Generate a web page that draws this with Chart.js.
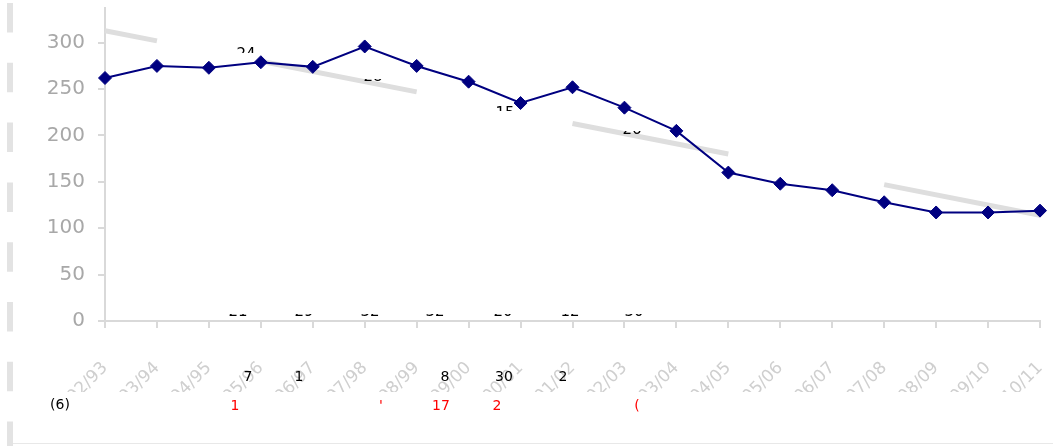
<!DOCTYPE html>
<html>
<head>
<meta charset="utf-8">
<script src="https://cdn.jsdelivr.net/npm/chart.js@4.4.0/dist/chart.umd.min.js"></script>
<style>
  html, body { margin: 0; padding: 0; background: #fff; }
  #wrap { width: 1053px; height: 446px; }
</style>
</head>
<body>
<div id="wrap"><canvas id="chart" width="1053" height="446"></canvas></div>
<script>
// categories (financial years)
const years = ['92/93', '93/94', '94/95', '95/96', '96/97', '97/98', '98/99', '99/00', '00/01',
    '01/02', '02/03', '03/04', '04/05', '05/06', '06/07', '07/08', '08/09', '09/10', '10/11'];

// main series
const values = [262, 275, 273, 279, 274, 296, 275, 258, 235, 252, 230, 205, 160, 148, 141, 128, 117, 117, 119];

// grey trend line, only where it is visible
const trendValues = [313, 302, null, 280, null, null, 247, null, null, 213, null, null, 180, null, null, 147, null, null, 114];
const trendHiddenTo = [3, 9, 15];

const yTicks = [0, 50, 100, 150, 200, 250, 300];

// stray label fragments
const axisNotes = ['21', '29', '32', '32', '20', '12', '30'];
const trendNotes = ['24', '28', '15', '26'];
const blackNotes = ['7', '1', '8', '30', '2'];
const redNotes = ['1', "'", '17', '2', '('];

const fragments = {
    id: 'fragments',
    beforeDraw(chart) {
        const ctx = chart.ctx;
        ctx.save();
        ctx.strokeStyle = '#e3e3e3';
        ctx.lineWidth = 6;
        ctx.setLineDash([29.5, 30.3]);
        ctx.beginPath();
        ctx.moveTo(10, 3);
        ctx.lineTo(10, 446);
        ctx.stroke();
        ctx.setLineDash([]);
        ctx.strokeStyle = '#e8e8e8';
        ctx.lineWidth = 1;
        ctx.beginPath();
        ctx.moveTo(13, 443.5);
        ctx.lineTo(1053, 443.5);
        ctx.stroke();
        ctx.restore();
    },
    afterDraw(chart) {
        const ctx = chart.ctx;
        ctx.save();
        // lower band hides the start of the category labels
        ctx.fillStyle = '#fff';
        ctx.fillRect(20, 392, 1033, 48);

        ctx.textAlign = 'center';
        ctx.textBaseline = 'middle';
        ctx.font = '15px "DejaVu Sans"';
        ctx.fillStyle = '#000';

        // half hidden numbers sitting on the x axis
        const axisX = [238, 304, 370, 435, 503, 570, 634];
        ctx.save();
        ctx.beginPath();
        ctx.rect(0, 314, 1053, 6);
        ctx.clip();
        axisNotes.forEach((t, i) => ctx.fillText(t, axisX[i], 312));
        ctx.restore();

        // half hidden numbers along the trend line
        const tPos = [[246, 55, 45, 53], [373, 77, 79, 87], [505, 114, 103, 111], [632, 130, 131, 139]];
        trendNotes.forEach((t, i) => {
            const [x, y, c0, c1] = tPos[i];
            ctx.save();
            ctx.beginPath();
            ctx.rect(0, c0, 1053, c1 - c0);
            ctx.clip();
            ctx.fillText(t, x, y);
            ctx.restore();
        });

        // black row under the axis
        ctx.font = '14px "DejaVu Sans"';
        const bX = [248, 299, 445, 504, 563];
        blackNotes.forEach((t, i) => ctx.fillText(t, bX[i], 377));
        ctx.fillText('(6)', 60, 405);

        // red row
        ctx.fillStyle = '#ff0000';
        const rX = [235, 381, 441, 497, 637];
        redNotes.forEach((t, i) => ctx.fillText(t, rX[i], 406));
        ctx.restore();
    }
};

new Chart(document.getElementById('chart'), {
    type: 'line',
    data: {
        labels: years,
        datasets: [
            {
                data: values,
                borderColor: '#000080',
                borderWidth: 2,
                backgroundColor: '#000080',
                pointStyle: 'rectRot',
                pointRadius: 6.5,
                pointBackgroundColor: '#000080',
                pointBorderColor: '#000080',
                pointBorderWidth: 1,
                tension: 0
            },
            {
                data: trendValues,
                spanGaps: true,
                borderWidth: 5,
                borderColor: '#dedede',
                pointRadius: 0,
                tension: 0,
                segment: {
                    borderColor: ctx => trendHiddenTo.includes(ctx.p1DataIndex) ? 'rgba(0,0,0,0)' : '#dedede'
                }
            }
        ]
    },
    options: {
        responsive: false,
        animation: false,
        layout: { padding: { top: 3, right: 13, left: 0, bottom: 0 } },
        plugins: {
            legend: { display: false },
            tooltip: { enabled: false }
        },
        scales: {
            x: {
                offset: false,
                grid: { drawOnChartArea: false, tickLength: 7, color: '#d9d9d9', lineWidth: 2 },
                border: { color: '#d9d9d9', width: 2 },
                ticks: {
                    autoSkip: false,
                    maxRotation: 45,
                    minRotation: 45,
                    padding: 30,
                    color: '#cfcfcf',
                    font: { family: 'DejaVu Sans', size: 17 }
                },
                afterFit: s => {
                    s.height = 125;
                    s.paddingLeft = 0;
                    s.paddingRight = 0;
                }
            },
            y: {
                min: 0,
                max: 338,
                afterBuildTicks: s => { s.ticks = yTicks.map(v => ({ value: v })); },
                grid: { drawOnChartArea: false, tickLength: 7, color: '#d9d9d9', lineWidth: 2 },
                border: { color: '#d9d9d9', width: 2 },
                ticks: {
                    padding: 13,
                    color: '#a8a8a8',
                    font: { family: 'DejaVu Sans', size: 20 }
                },
                afterFit: s => {
                    s.width = 105;
                    s.paddingTop = 0;
                    s.paddingBottom = 0;
                }
            }
        }
    },
    plugins: [fragments]
});
</script>
</body>
</html>
